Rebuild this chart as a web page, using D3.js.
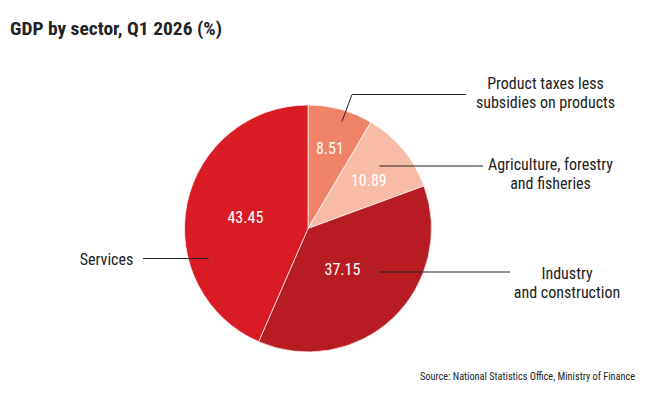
<!DOCTYPE html>
<html><head><meta charset="utf-8">
<script src="https://cdn.jsdelivr.net/npm/d3@7"></script>
<style>
body{margin:0;background:#fff;}
text{font-family:"Liberation Sans Narrow","Roboto Condensed","Arial Narrow",sans-serif;}
</style></head>
<body><svg id="c" width="657" height="393"></svg>
<script>
const categories = ["Product taxes less subsidies on products","Agriculture, forestry and fisheries","Industry and construction","Services"];
const labelLines = [["Product taxes less","subsidies on products"],["Agriculture, forestry","and fisheries"],["Industry","and construction"],["Services"]];
const values = [8.51, 10.89, 37.15, 43.45];
const colors = ["#ef8368","#f7bba6","#b71c22","#d91b23"];

const svg = d3.select("#c");
const cx = 308, cy = 228.5, R = 123.5;
const g = svg.append("g").attr("transform",`translate(${cx},${cy})`);

const pie = d3.pie().sort(null).value(d=>d);
const arcs = pie(values);
const arc = d3.arc().innerRadius(0).outerRadius(R);

g.selectAll("path.s").data(arcs).enter().append("path")
  .attr("d",arc).attr("fill",(d,i)=>colors[i])
  .attr("stroke","#fff").attr("stroke-width",0.7);

// label layout (positioning only)
const valRad = [0.67,0.63,0.43,0.515];
const valAng = [0,0.02,0.05,-0.03];
const pt = (a,r)=>[r*Math.sin(a), -r*Math.cos(a)];
g.selectAll("text.v").data(arcs).enter().append("text")
  .attr("transform",(d,i)=>{const a=(d.startAngle+d.endAngle)/2+valAng[i];const p=pt(a,R*valRad[i]);return `translate(${p[0]},${p[1]})`;})
  .attr("text-anchor","middle").attr("dy","0.36em")
  .attr("fill","#fff").attr("font-size",16)
  .text(d=>d.value.toFixed(2));

// leader lines & category labels
const lay = [
  {a:0.04, r:0.91, pts:[[352,94.5],[466,94.5]], tx:545.5, ty:[83,102]},
  {a:-0.02, r:0.765, pts:[[483,166]], tx:550.5, ty:[164,183]},
  {a:-0.26, r:0.68, pts:[[510,272]], tx:567, ty:[273,292]},
  {a:-0.5, r:0.84, pts:[[143,258.5]], tx:106.5, ty:[259]}
];
arcs.forEach((d,i)=>{
  const L = lay[i];
  const a=(d.startAngle+d.endAngle)/2+L.a;
  const s=pt(a,R*L.r);
  const p0=[cx+s[0], cy+s[1]];
  let pts=[p0].concat(L.pts);
  if(L.pts.length===1) pts=[[p0[0],L.pts[0][1]],L.pts[0]];
  svg.append("path").attr("d",d3.line()(pts)).attr("fill","none")
    .attr("stroke","#222").attr("stroke-width",1);
  const t = svg.append("text").attr("text-anchor","middle").attr("font-size",16).attr("fill","#222");
  labelLines[i].forEach((ln,j)=>t.append("tspan").attr("x",L.tx).attr("y",L.ty[j]).attr("dy","0.36em").text(ln));
});

svg.append("text").attr("x",10).attr("y",35).attr("font-size",18.5).attr("font-weight","bold")
  .attr("textLength",212).attr("lengthAdjust","spacingAndGlyphs")
  .attr("fill","#222").text("GDP by sector, Q1 2026 (%)");
svg.append("text").attr("x",420).attr("y",379.5).attr("font-size",11)
  .attr("textLength",215).attr("lengthAdjust","spacingAndGlyphs")
  .attr("fill","#222").text("Source: National Statistics Office, Ministry of Finance");
</script></body></html>
